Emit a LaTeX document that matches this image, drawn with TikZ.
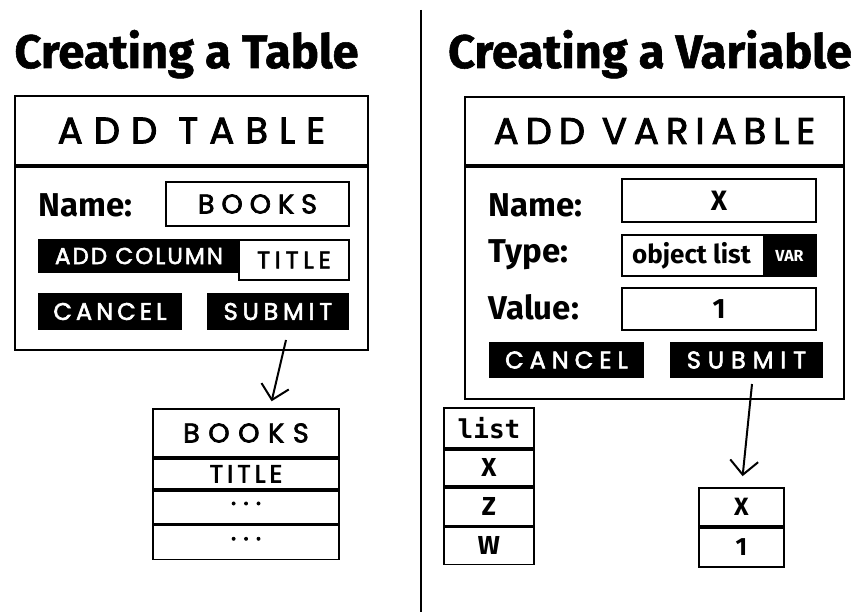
\documentclass[tikz,border=0pt]{standalone}
\usepackage{fontspec}
\setmainfont{Fira Sans}
\newfontfamily\uifont{Poppins}[FakeBold=2.5]
\newfontfamily\codefont{DejaVu Sans Mono}
\newfontfamily\headfont{Fira Sans}[UprightFont=*-Bold,FakeBold=1.2]
\usetikzlibrary{positioning,arrows.meta}
\newcommand\fs[1]{\fontsize{#1}{#1}\selectfont}
\newcommand\spaced[2]{{\addfontfeatures{LetterSpace=#1}#2}}

\begin{document}
\begin{tikzpicture}[x=1pt,y=-1pt,line width=1.8pt,inner sep=0pt,
                    >={Straight Barb[length=14pt,width=28pt]}]
  \tikzstyle{panel}=[draw,line width=2pt]
  \tikzstyle{field}=[draw,fill=white,font=\uifont\fs{27}]
  \tikzstyle{btn}=[fill=black,text=white,font=\uifont\fs{24}]
  \tikzstyle{cell}=[draw,font=\uifont\fs{26}]
  \tikzstyle{lbl}=[anchor=west,font=\bfseries\fs{33}]
  \tikzstyle{heading}=[anchor=base,font=\headfont\fs{47}]

  \useasboundingbox (0,0) rectangle (851,612);

  % divider
  \coordinate (top) at (421,10);
  \coordinate (bot) at (421,612);
  \draw[line width=2.6pt] (top) -- (bot);

  % titles
  \node[heading] (tbltitle) at (186.5,68) {Creating a Table};
  \node[heading] (vartitle) at (650,68)   {Creating a Variable};

  % add table dialog
  \node[panel,minimum width=353pt,minimum height=69pt,font=\uifont\fs{37}]
        (tblhead) at (191.5,130.5) {\spaced{30}{ADD TABLE}};
  \node[panel,minimum width=353pt,minimum height=183pt,below=0pt of tblhead] (tblbody) {};
  \node[lbl] (tblname) at (38,205) {Name:};
  \node[field,minimum width=183pt,minimum height=44pt] (namefld) at (257.5,204) {\spaced{26}{BOOKS}};
  \node[btn,font=\uifont\fs{23},minimum width=202pt,minimum height=34pt] (addcol) at (139,256) {\spaced{9}{ADD COLUMN}};
  \node[field,font=\uifont\fs{24},minimum width=110pt,minimum height=40pt] (colfld) at (294,260) {\spaced{20}{TITLE}};
  \node[btn,minimum width=144pt,minimum height=37pt] (tblcancel) at (110,311.5) {\spaced{17}{CANCEL}};
  \node[btn,minimum width=142pt,minimum height=37pt] (tblsubmit) at (278,311.5) {\spaced{20}{SUBMIT}};

  % resulting table
  \node[cell,font=\uifont\fs{27},minimum width=186pt,minimum height=48pt] (bkhead) at (246,433) {\spaced{32}{BOOKS}};
  \node[cell,font=\uifont\fs{25},minimum width=186pt,minimum height=30pt,below=0pt of bkhead] (bktitle) {\spaced{16}{TITLE}};
  \node[cell,minimum width=186pt,minimum height=33pt,below=0pt of bktitle] (bkrow1) {· · ·};
  \node[cell,minimum width=186pt,minimum height=34pt,below=0pt of bkrow1] (bkrow2) {· · ·};

  \coordinate (tblout) at (286,340);
  \draw[->,line width=2pt,shorten >=7pt] (tblout) -- ([xshift=24pt]bkhead.north);

  % add variable dialog
  \node[panel,minimum width=379pt,minimum height=68pt,font=\uifont\fs{37}]
        (varhead) at (654.5,131) {\spaced{19}{ADD VARIABLE}};
  \node[panel,minimum width=379pt,minimum height=232pt,below=0pt of varhead] (varbody) {};
  \node[lbl] (varname) at (488,205) {Name:};
  \node[lbl] (vartype) at (488,255) {Type:};
  \node[lbl] (varvalue) at (488,307) {Value:};
  \node[field,font=\bfseries\fs{28},minimum width=194pt,minimum height=43pt] (xfld) at (719,200.5) {X};
  \node[field,minimum width=194pt,minimum height=41pt] (typefld) at (719,255.5) {};
  \node[btn,font=\bfseries\fs{16},minimum width=53pt,minimum height=41pt,anchor=east] (varbtn) at (typefld.east) {VAR};
  \node[font=\bfseries\fs{26}] (typeval) at (691.5,255.5) {object list};
  \node[field,font=\bfseries\fs{28},minimum width=194pt,minimum height=42pt] (valfld) at (719,309) {1};
  \node[btn,minimum width=155pt,minimum height=36pt] (varcancel) at (566.5,360) {\spaced{25}{CANCEL}};
  \node[btn,minimum width=153pt,minimum height=36pt] (varsubmit) at (746.5,360) {\spaced{29}{SUBMIT}};

  % list of variables
  \node[cell,font=\codefont\bfseries\fs{26},minimum width=90pt,minimum height=40pt] (lsthead) at (489,428) {list};
  \node[cell,font=\bfseries\fs{26},minimum width=90pt,minimum height=36pt,below=0pt of lsthead] (lstx) {X};
  \node[cell,font=\bfseries\fs{26},minimum width=90pt,minimum height=38pt,below=0pt of lstx] (lstz) {Z};
  \node[cell,font=\bfseries\fs{26},minimum width=90pt,minimum height=37pt,below=0pt of lstz] (lstw) {W};

  % resulting variable
  \node[cell,font=\bfseries\fs{25},minimum width=85pt,minimum height=38pt] (vname) at (741.5,507) {X};
  \node[cell,font=\bfseries\fs{25},minimum width=85pt,minimum height=39pt,below=0pt of vname] (vval) {1};

  \coordinate (varout) at (752,384);
  \draw[->,line width=2pt,shorten >=11pt] (varout) -- (vname.north);
\end{tikzpicture}
\end{document}
